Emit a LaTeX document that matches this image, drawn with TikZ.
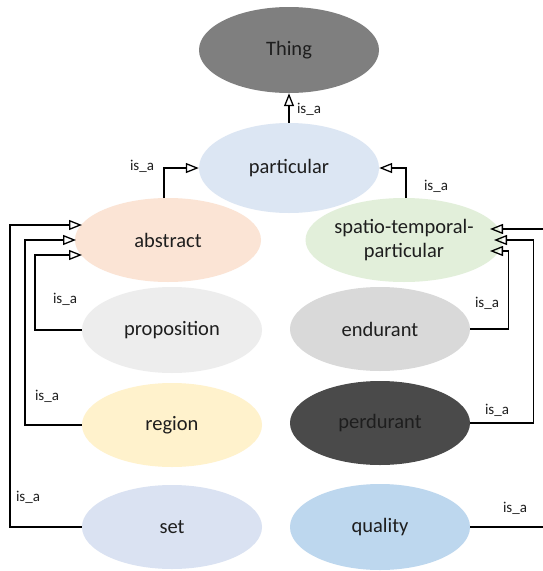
\documentclass[tikz,border=0pt]{standalone}
\usepackage{fontspec}
\setmainfont{Carlito}
\usetikzlibrary{arrows.meta,shapes.geometric,calc}

\definecolor{cThing}{HTML}{7F7F7F}
\definecolor{cPart}{HTML}{DCE6F3}
\definecolor{cAbs}{HTML}{FBE4D5}
\definecolor{cSpt}{HTML}{E2EFDA}
\definecolor{cProp}{HTML}{EDEDED}
\definecolor{cEnd}{HTML}{D9D9D9}
\definecolor{cReg}{HTML}{FFF2CC}
\definecolor{cPerd}{HTML}{4A4A4A}
\definecolor{cSet}{HTML}{DAE2F2}
\definecolor{cQual}{HTML}{BDD7EE}
\definecolor{cText}{HTML}{1E1E1E}

\tikzset{
  concept/.style={ellipse, inner sep=0pt, minimum width=180pt, minimum height=84pt,
    font=\fontsize{20.5}{24}\selectfont, text=cText, align=center},
  isa/.style={line width=1.4pt, -{Triangle[open, length=13pt, width=10pt, line width=1.3pt]}},
  lbl/.style={font=\fontsize{15}{18}\selectfont, text=cText, inner sep=0pt}
}

\begin{document}
\begin{tikzpicture}[x=1pt, y=-1pt]
  \clip (0,0) rectangle (543,571);
  \fill[white] (0,0) rectangle (543,571);

  % concepts
  \node[concept, fill=cThing, minimum height=86pt] (thing) at (289,50) {Thing};
  \node[concept, fill=cPart, minimum height=90pt] (particular) at (289,168) {particular};
  \node[concept, fill=cAbs, minimum width=186pt] (abstract) at (168,240) {abstract};
  \node[concept, fill=cSpt] (spatio) at (404,240) {spatio-temporal-\\particular};
  \node[concept, fill=cProp, minimum height=86pt] (proposition) at (172,330) {proposition};
  \node[concept, fill=cEnd] (endurant) at (380,329) {endurant};
  \node[concept, fill=cReg] (region) at (172,425) {region};
  \node[concept, fill=cPerd] (perdurant) at (380,423) {perdurant};
  \node[concept, fill=cSet] (set) at (172,527) {set};
  \node[concept, fill=cQual, minimum height=86pt] (quality) at (380,527) {quality};

  % is_a links
  \draw[isa] (particular.north) -- (thing.south);
  \draw[isa] ($(abstract.center)+(-4,-42)$) |- (particular.west);
  \draw[isa] ($(spatio.center)+(2,-42)$) |- (particular.east);

  \draw[isa] (proposition.west) -- ++(-47,0) |- ($(abstract.center)+(-86,15)$);
  \draw[isa] (region.west) -- ++(-57,0) |- ($(abstract.center)+(-92,0)$);
  \draw[isa] (set.west) -- ++(-72,0) |- ($(abstract.center)+(-86,-15)$);

  \draw[isa] (endurant.east) -- ++(38,0) |- ($(spatio.center)+(86,11)$);
  \draw[isa] (perdurant.east) -- ++(63,0) |- ($(spatio.center)+(90,0)$);
  \draw[isa] (quality.east) -- ++(75,0) |- ($(spatio.center)+(86,-11)$);

  % labels
  \node[lbl] (l1) at (309,109) {is\_a};
  \node[lbl] (l2) at (142,166) {is\_a};
  \node[lbl] (l3) at (436,186) {is\_a};
  \node[lbl] (l4) at (65,299) {is\_a};
  \node[lbl] (l5) at (47,396) {is\_a};
  \node[lbl] (l6) at (28,497) {is\_a};
  \node[lbl] (l7) at (487,303) {is\_a};
  \node[lbl] (l8) at (497,410) {is\_a};
  \node[lbl] (l9) at (515,508) {is\_a};
\end{tikzpicture}
\end{document}
